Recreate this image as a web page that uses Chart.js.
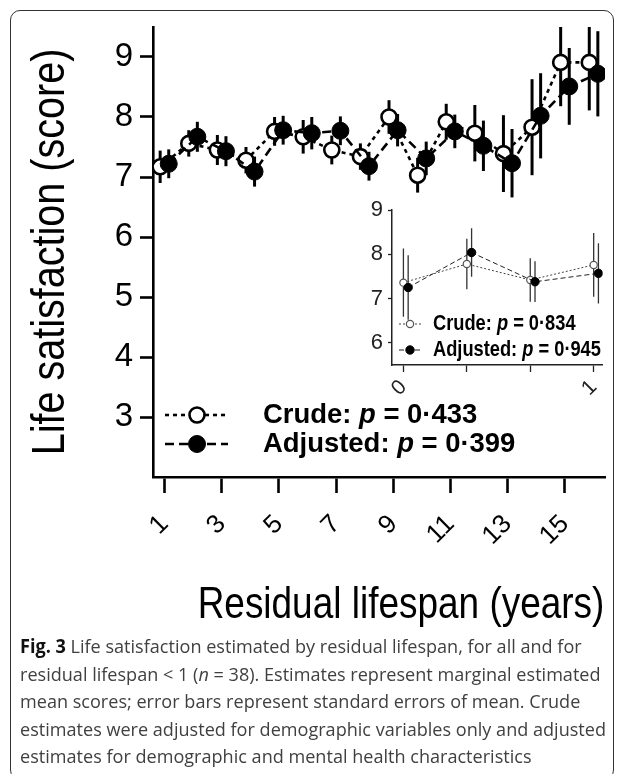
<!DOCTYPE html>
<html lang="en">
<head>
<meta charset="UTF-8">
<title>Life satisfaction by residual lifespan</title>
<script src="https://cdn.jsdelivr.net/npm/chart.js"></script>
<style>
  body { margin: 0; background: #fff; width: 625px; height: 774px; overflow: hidden; position: relative; }
  .frame { position: absolute; left: 10px; top: 10px; width: 604px; height: 770px; border: 1.5px solid #333; border-radius: 10px; box-sizing: border-box; }
  #mainChart { position: absolute; left: 0; top: 0; }
  #insetChart { position: absolute; left: 330px; top: 185px; }
  .caption { position: absolute; left: 20px; top: 633px; font-family: "Open Sans", sans-serif; font-size: 19px; line-height: 27.5px; color: #404040; white-space: nowrap; transform-origin: 0 0; }
  .caption b { color: #111; }
  .caption span { display: inline-block; }
</style>
</head>
<body>
<div class="frame"></div>
<canvas id="mainChart" width="625" height="640"></canvas>
<canvas id="insetChart" width="285" height="235"></canvas>
<div class="caption" id="caption">
  <span><b>Fig. 3</b> Life satisfaction estimated by residual lifespan, for all and for</span><br>
  <span>residual lifespan &lt; 1 (<i>n</i> = 38). Estimates represent marginal estimated</span><br>
  <span>mean scores; error bars represent standard errors of mean. Crude</span><br>
  <span>estimates were adjusted for demographic variables only and adjusted</span><br>
  <span>estimates for demographic and mental health characteristics</span>
</div>

<script>
// ---- data ----
const years = [1, 2, 3, 4, 5, 6, 7, 8, 9, 10, 11, 12, 13, 14, 15, 16];
const crudeMean = [7.17, 7.56, 7.45, 7.28, 7.76, 7.67, 7.45, 7.34, 8.00, 7.03, 7.92, 7.73, 7.39, 7.83, 8.91, 8.91];
const crudeSE   = [0.27, 0.22, 0.25, 0.22, 0.24, 0.28, 0.24, 0.22, 0.28, 0.29, 0.30, 0.47, 0.64, 0.80, 0.73, 0.80];
const adjMean   = [7.22, 7.67, 7.43, 7.09, 7.78, 7.73, 7.77, 7.18, 7.78, 7.31, 7.76, 7.52, 7.23, 8.02, 8.51, 8.72];
const adjSE     = [0.24, 0.25, 0.25, 0.25, 0.24, 0.27, 0.24, 0.24, 0.27, 0.28, 0.28, 0.42, 0.57, 0.71, 0.64, 0.71];
const yTicks = [3, 4, 5, 6, 7, 8, 9];
const xTicks = [1, 3, 5, 7, 9, 11, 13, 15];

// inset: residual lifespan < 1
const insetGroups = [0, 1, 2, 3];
const insetTickLabels = ['0', '', '', '1'];
const insetCrudeMean = [7.36, 7.78, 7.42, 7.76];
const insetCrudeSE   = [0.77, 0.57, 0.49, 0.72];
const insetAdjMean   = [7.25, 8.04, 7.38, 7.57];
const insetAdjSE     = [0.73, 0.55, 0.46, 0.68];
const insetYTicks = [6, 7, 8, 9];

const seriesNames = ['Crude', 'Adjusted'];
const mainP = ['0·433', '0·399'];
const insetP = ['0·834', '0·945'];

const SANS = '"Liberation Sans", Arial, sans-serif';

function points(xs, means, ses, shift) {
  return xs.map((x, i) => ({ x: x + shift, y: means[i], se: ses[i] }));
}

// vertical error bars, drawn under the markers
const errorBars = {
  id: 'errorBars',
  beforeDatasetsDraw(chart, args, opts) {
    const { ctx, chartArea: a, scales: { x, y } } = chart;
    ctx.save();
    ctx.beginPath();
    ctx.rect(a.left, a.top, a.right - a.left, a.bottom - a.top);
    ctx.clip();
    ctx.strokeStyle = opts.color;
    ctx.lineWidth = opts.width;
    chart.data.datasets.forEach(ds => {
      ds.data.forEach(p => {
        const px = x.getPixelForValue(p.x);
        ctx.beginPath();
        ctx.moveTo(px, y.getPixelForValue(p.y - p.se));
        ctx.lineTo(px, y.getPixelForValue(p.y + p.se));
        ctx.stroke();
      });
    });
    ctx.restore();
  }
};

// legend with a bold-italic "p"; sx squeezes the text like the narrow font of the figure
const pLegend = {
  id: 'pLegend',
  afterDraw(chart, args, opts) {
    const ctx = chart.ctx;
    chart.data.datasets.forEach((ds, i) => {
      const yy = opts.ys[i];
      ctx.save();
      ctx.strokeStyle = ds.borderColor;
      ctx.lineWidth = ds.borderWidth;
      ctx.setLineDash(ds.borderDash);
      ctx.beginPath();
      ctx.moveTo(opts.x0, yy);
      ctx.lineTo(opts.x1, yy);
      ctx.stroke();
      ctx.setLineDash([]);
      ctx.beginPath();
      ctx.arc(opts.xm, yy, ds.pointRadius, 0, Math.PI * 2);
      ctx.fillStyle = ds.pointBackgroundColor;
      ctx.fill();
      ctx.lineWidth = ds.pointBorderWidth;
      ctx.strokeStyle = ds.pointBorderColor;
      ctx.stroke();

      ctx.translate(opts.xt, yy);
      ctx.scale(opts.sx, 1);
      ctx.fillStyle = '#000';
      ctx.textBaseline = 'middle';
      let tx = 0;
      const parts = [[seriesNames[i] + ': ', ''], ['p', 'italic '], [' = ' + opts.pvals[i], '']];
      parts.forEach(([txt, style]) => {
        ctx.font = style + 'bold ' + opts.size + 'px ' + SANS;
        ctx.fillText(txt, tx, 0);
        tx += ctx.measureText(txt).width;
      });
      ctx.restore();
    });
  }
};

// axis titles in a condensed face
const axisTitles = {
  id: 'axisTitles',
  afterDraw(chart, args, opts) {
    const { ctx, chartArea: a } = chart;
    ctx.save();
    ctx.fillStyle = '#000';
    ctx.textAlign = 'center';
    ctx.textBaseline = 'alphabetic';
    // y title, centred on the plot height
    ctx.save();
    ctx.translate(opts.yBase, (a.top + a.bottom) / 2);
    ctx.rotate(-Math.PI / 2);
    ctx.scale(opts.ySx, 1);
    ctx.font = opts.ySize + 'px ' + SANS;
    ctx.fillText(opts.yText, 0, 0);
    ctx.restore();
    // x title
    ctx.save();
    ctx.translate(opts.xCenter, opts.xBase);
    ctx.scale(opts.xSx, 1);
    ctx.font = opts.xSize + 'px ' + SANS;
    ctx.fillText(opts.xText, 0, 0);
    ctx.restore();
    ctx.restore();
  }
};

function fixedTicks(values) {
  return scale => { scale.ticks = values.map(v => ({ value: v })); };
}

// ---- main chart ----
new Chart(document.getElementById('mainChart'), {
  type: 'line',
  data: {
    datasets: [
      {
        label: seriesNames[0],
        data: points(years, crudeMean, crudeSE, -0.15),
        borderColor: '#000', borderWidth: 2.6, borderDash: [4, 4],
        pointRadius: 7.5, pointBorderWidth: 2.6,
        pointBackgroundColor: '#fff', pointBorderColor: '#000',
        order: 2
      },
      {
        label: seriesNames[1],
        data: points(years, adjMean, adjSE, 0.15),
        borderColor: '#000', borderWidth: 2.6, borderDash: [9, 5],
        pointRadius: 8.5, pointBorderWidth: 1,
        pointBackgroundColor: '#000', pointBorderColor: '#000',
        order: 1
      }
    ]
  },
  options: {
    responsive: false,
    animation: false,
    layout: { padding: { top: 27, right: 20, left: 0, bottom: 0 } },
    plugins: {
      legend: { display: false },
      tooltip: { enabled: false },
      errorBars: { color: '#000', width: 3 },
      pLegend: { ys: [415, 444], x0: 165, x1: 228, xm: 197, xt: 263, size: 28, sx: 0.98, pvals: mainP },
      axisTitles: {
        yText: 'Life satisfaction (score)', ySize: 46, ySx: 0.86, yBase: 64,
        xText: 'Residual lifespan (years)', xSize: 44, xSx: 0.84, xCenter: 401, xBase: 618
      }
    },
    scales: {
      x: {
        type: 'linear', min: 0.6, max: 16.4,
        afterBuildTicks: fixedTicks(xTicks),
        afterFit: s => { s.height = 163; },
        grid: { drawOnChartArea: false, tickLength: 16, tickWidth: 2.6, tickColor: '#000' },
        border: { display: true, color: '#000', width: 2.6 },
        ticks: { autoSkip: false, minRotation: 45, maxRotation: 45, padding: 16, color: '#000',
                 font: { family: SANS, size: 26 } }
      },
      y: {
        min: 2, max: 9.5,
        afterBuildTicks: fixedTicks(yTicks),
        afterFit: s => { s.width = 153; },
        grid: { drawOnChartArea: false, tickLength: 13, tickWidth: 2.6, tickColor: '#000' },
        border: { display: true, color: '#000', width: 2.6 },
        ticks: { padding: 7, color: '#000', font: { family: SANS, size: 33 } }
      }
    }
  },
  plugins: [errorBars, pLegend, axisTitles]
});

// ---- inset chart ----
new Chart(document.getElementById('insetChart'), {
  type: 'line',
  data: {
    datasets: [
      {
        label: seriesNames[0],
        data: points(insetGroups, insetCrudeMean, insetCrudeSE, 0),
        borderColor: '#444', borderWidth: 1, borderDash: [2, 2],
        pointRadius: 3.6, pointBorderWidth: 1.2,
        pointBackgroundColor: '#fff', pointBorderColor: '#555',
        order: 2
      },
      {
        label: seriesNames[1],
        data: points(insetGroups, insetAdjMean, insetAdjSE, 0.075),
        borderColor: '#222', borderWidth: 1, borderDash: [5, 3],
        pointRadius: 4.2, pointBorderWidth: 1,
        pointBackgroundColor: '#000', pointBorderColor: '#000',
        order: 1
      }
    ]
  },
  options: {
    responsive: false,
    animation: false,
    layout: { padding: { top: 25, right: 12, left: 0, bottom: 0 } },
    plugins: {
      legend: { display: false },
      tooltip: { enabled: false },
      errorBars: { color: '#333', width: 1.3 },
      pLegend: { ys: [139, 165], x0: 69, x1: 92, xm: 80, xt: 103, size: 22, sx: 0.83, pvals: insetP }
    },
    scales: {
      x: {
        type: 'linear', min: -0.18, max: 3.14,
        afterBuildTicks: fixedTicks(insetGroups),
        afterFit: s => { s.height = 55; },
        grid: { drawOnChartArea: false, tickLength: 7, tickWidth: 1.3, tickColor: '#222' },
        border: { display: true, color: '#222', width: 1.5 },
        ticks: { autoSkip: false, minRotation: 45, maxRotation: 45, padding: 3, color: '#222',
                 font: { family: SANS, size: 21 },
                 callback: v => insetTickLabels[insetGroups.indexOf(v)] }
      },
      y: {
        min: 5.5, max: 9,
        afterBuildTicks: fixedTicks(insetYTicks),
        afterFit: s => { s.width = 62; },
        grid: { drawOnChartArea: false, tickLength: 4, tickWidth: 1.3, tickColor: '#222' },
        border: { display: true, color: '#222', width: 1.5 },
        ticks: { padding: 5, color: '#222', font: { family: SANS, size: 22 } }
      }
    }
  },
  plugins: [errorBars, pLegend]
});

// fit the longest caption line to the frame width
const cap = document.getElementById('caption');
let widest = 0;
cap.querySelectorAll('span').forEach(s => { widest = Math.max(widest, s.getBoundingClientRect().width); });
cap.style.transform = 'scaleX(' + (586 / widest) + ')';
</script>
</body>
</html>
